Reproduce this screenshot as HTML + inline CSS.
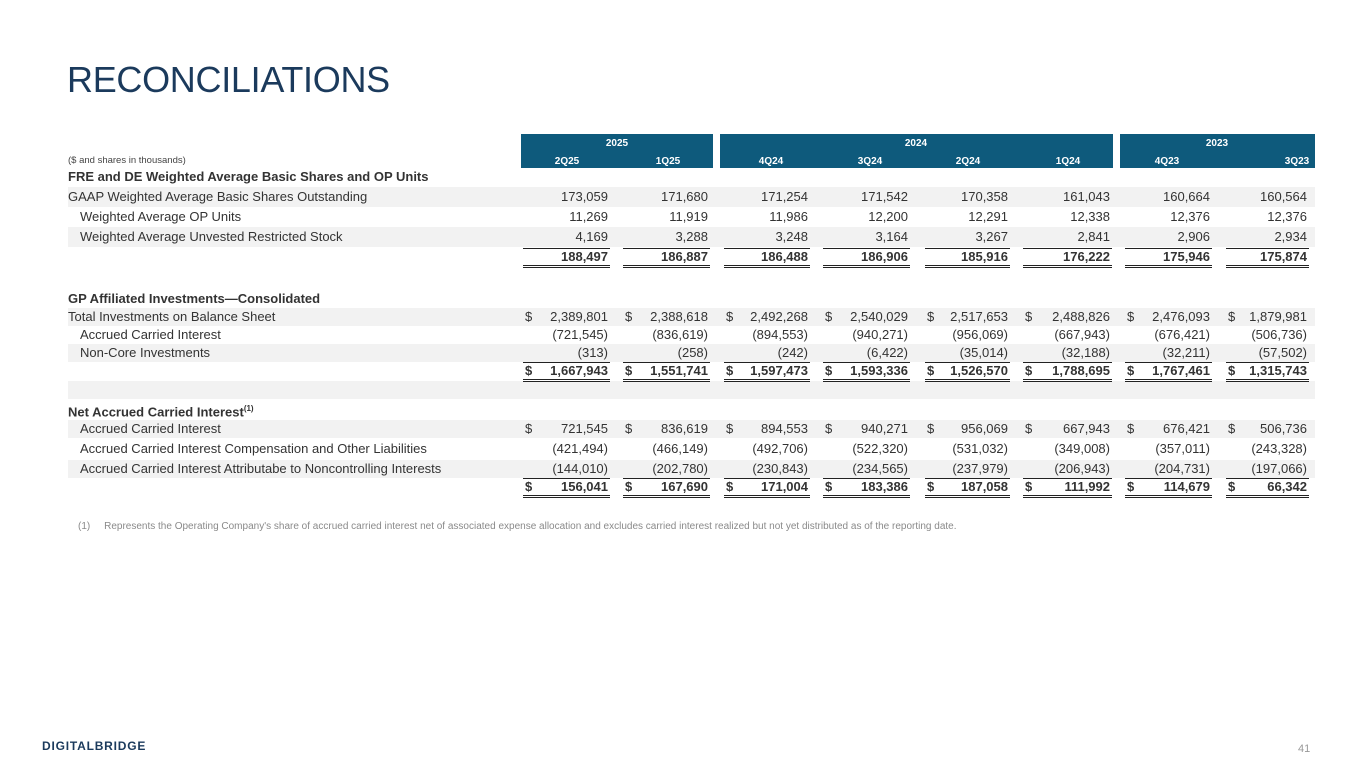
<!DOCTYPE html>
<html><head><meta charset="utf-8"><style>
body{margin:0;width:1365px;height:768px;background:#fff;position:relative;overflow:hidden;font-family:"Liberation Sans",Arial,sans-serif;color:#333}
div,span{position:absolute}
.t{left:67px;top:59px;font-size:36px;color:#1b3a5c;letter-spacing:-0.3px}
.bar{background:#0e5a7c;top:134px;height:34px}
.h{color:#fff;font-size:10px;font-weight:bold;width:100px;text-align:center;margin-left:-50px}
.r{left:0;width:1365px;height:18px;font-size:13px;line-height:18px}
.g{background:#f2f2f2;left:68px;width:1247px;height:18px}
.l{left:68px}.i{left:80px}
.b{font-weight:bold}
.c1{right:757px}.c2{right:657px}.c3{right:557px}.c4{right:457px}.c5{right:357px}.c6{right:255px}.c7{right:155px}.c8{right:58px}
.d1{left:525px}.d2{left:625px}.d3{left:726px}.d4{left:825px}.d5{left:927px}.d6{left:1025px}.d7{left:1127px}.d8{left:1228px}
.ln{height:1px;background:#222}
.dl{height:1px;border-top:1px solid #222;border-bottom:1px solid #222}
</style></head><body>
<div class="t">RECONCILIATIONS</div>
<div class="bar" style="left:521px;width:192px"></div>
<div class="bar" style="left:720px;width:393px"></div>
<div class="bar" style="left:1120px;width:195px"></div>
<div class="h" style="left:617px;top:138px">2025</div>
<div class="h" style="left:916px;top:138px">2024</div>
<div class="h" style="left:1217px;top:138px">2023</div>
<div class="h" style="left:567px;top:156px">2Q25</div>
<div class="h" style="left:668px;top:156px">1Q25</div>
<div class="h" style="left:771px;top:156px">4Q24</div>
<div class="h" style="left:870px;top:156px">3Q24</div>
<div class="h" style="left:968px;top:156px">2Q24</div>
<div class="h" style="left:1068px;top:156px">1Q24</div>
<div class="h" style="left:1167px;top:156px">4Q23</div>
<div class="h" style="left:1297px;top:156px">3Q23</div>
<div style="left:68px;top:155px;font-size:9.5px;color:#444">($ and shares in thousands)</div>

<div class="r b" style="top:168px"><span class="l">FRE and DE Weighted Average Basic Shares and OP Units</span></div>
<div class="g" style="top:187px;height:20px"></div>
<div class="r" style="top:188px"><span class="l">GAAP Weighted Average Basic Shares Outstanding</span><span class="c1">173,059</span><span class="c2">171,680</span><span class="c3">171,254</span><span class="c4">171,542</span><span class="c5">170,358</span><span class="c6">161,043</span><span class="c7">160,664</span><span class="c8">160,564</span></div>
<div class="r" style="top:208px"><span class="i">Weighted Average OP Units</span><span class="c1">11,269</span><span class="c2">11,919</span><span class="c3">11,986</span><span class="c4">12,200</span><span class="c5">12,291</span><span class="c6">12,338</span><span class="c7">12,376</span><span class="c8">12,376</span></div>
<div class="g" style="top:227px;height:20px"></div>
<div class="r" style="top:228px"><span class="i">Weighted Average Unvested Restricted Stock</span><span class="c1">4,169</span><span class="c2">3,288</span><span class="c3">3,248</span><span class="c4">3,164</span><span class="c5">3,267</span><span class="c6">2,841</span><span class="c7">2,906</span><span class="c8">2,934</span></div>
<div class="r b" style="top:248px"><span class="c1">188,497</span><span class="c2">186,887</span><span class="c3">186,488</span><span class="c4">186,906</span><span class="c5">185,916</span><span class="c6">176,222</span><span class="c7">175,946</span><span class="c8">175,874</span></div>

<div class="r b" style="top:290px"><span class="l">GP Affiliated Investments—Consolidated</span></div>
<div class="g" style="top:308px"></div>
<div class="r" style="top:308px"><span class="l">Total Investments on Balance Sheet</span><span class="d1">$</span><span class="d2">$</span><span class="d3">$</span><span class="d4">$</span><span class="d5">$</span><span class="d6">$</span><span class="d7">$</span><span class="d8">$</span><span class="c1">2,389,801</span><span class="c2">2,388,618</span><span class="c3">2,492,268</span><span class="c4">2,540,029</span><span class="c5">2,517,653</span><span class="c6">2,488,826</span><span class="c7">2,476,093</span><span class="c8">1,879,981</span></div>
<div class="r" style="top:326px"><span class="i">Accrued Carried Interest</span><span class="c1">(721,545)</span><span class="c2">(836,619)</span><span class="c3">(894,553)</span><span class="c4">(940,271)</span><span class="c5">(956,069)</span><span class="c6">(667,943)</span><span class="c7">(676,421)</span><span class="c8">(506,736)</span></div>
<div class="g" style="top:344px"></div>
<div class="r" style="top:344px"><span class="i">Non-Core Investments</span><span class="c1">(313)</span><span class="c2">(258)</span><span class="c3">(242)</span><span class="c4">(6,422)</span><span class="c5">(35,014)</span><span class="c6">(32,188)</span><span class="c7">(32,211)</span><span class="c8">(57,502)</span></div>
<div class="r b" style="top:362px"><span class="d1">$</span><span class="d2">$</span><span class="d3">$</span><span class="d4">$</span><span class="d5">$</span><span class="d6">$</span><span class="d7">$</span><span class="d8">$</span><span class="c1">1,667,943</span><span class="c2">1,551,741</span><span class="c3">1,597,473</span><span class="c4">1,593,336</span><span class="c5">1,526,570</span><span class="c6">1,788,695</span><span class="c7">1,767,461</span><span class="c8">1,315,743</span></div>
<div class="g" style="top:381px"></div>

<div class="r b" style="top:400px"><span class="l">Net Accrued Carried Interest<sup style="font-size:8px">(1)</sup></span></div>
<div class="g" style="top:420px"></div>
<div class="r" style="top:420px"><span class="i">Accrued Carried Interest</span><span class="d1">$</span><span class="d2">$</span><span class="d3">$</span><span class="d4">$</span><span class="d5">$</span><span class="d6">$</span><span class="d7">$</span><span class="d8">$</span><span class="c1">721,545</span><span class="c2">836,619</span><span class="c3">894,553</span><span class="c4">940,271</span><span class="c5">956,069</span><span class="c6">667,943</span><span class="c7">676,421</span><span class="c8">506,736</span></div>
<div class="r" style="top:440px"><span class="i">Accrued Carried Interest Compensation and Other Liabilities</span><span class="c1">(421,494)</span><span class="c2">(466,149)</span><span class="c3">(492,706)</span><span class="c4">(522,320)</span><span class="c5">(531,032)</span><span class="c6">(349,008)</span><span class="c7">(357,011)</span><span class="c8">(243,328)</span></div>
<div class="g" style="top:460px"></div>
<div class="r" style="top:460px"><span class="i">Accrued Carried Interest Attributabe to Noncontrolling Interests</span><span class="c1">(144,010)</span><span class="c2">(202,780)</span><span class="c3">(230,843)</span><span class="c4">(234,565)</span><span class="c5">(237,979)</span><span class="c6">(206,943)</span><span class="c7">(204,731)</span><span class="c8">(197,066)</span></div>
<div class="r b" style="top:478px"><span class="d1">$</span><span class="d2">$</span><span class="d3">$</span><span class="d4">$</span><span class="d5">$</span><span class="d6">$</span><span class="d7">$</span><span class="d8">$</span><span class="c1">156,041</span><span class="c2">167,690</span><span class="c3">171,004</span><span class="c4">183,386</span><span class="c5">187,058</span><span class="c6">111,992</span><span class="c7">114,679</span><span class="c8">66,342</span></div>

<!-- lines -->
<div class="ln" style="top:248px;left:523px;width:87px"></div><div class="ln" style="top:248px;left:623px;width:87px"></div><div class="ln" style="top:248px;left:724px;width:86px"></div><div class="ln" style="top:248px;left:823px;width:87px"></div><div class="ln" style="top:248px;left:925px;width:85px"></div><div class="ln" style="top:248px;left:1023px;width:89px"></div><div class="ln" style="top:248px;left:1125px;width:87px"></div><div class="ln" style="top:248px;left:1226px;width:83px"></div>
<div class="dl" style="top:265px;left:523px;width:87px"></div><div class="dl" style="top:265px;left:623px;width:87px"></div><div class="dl" style="top:265px;left:724px;width:86px"></div><div class="dl" style="top:265px;left:823px;width:87px"></div><div class="dl" style="top:265px;left:925px;width:85px"></div><div class="dl" style="top:265px;left:1023px;width:89px"></div><div class="dl" style="top:265px;left:1125px;width:87px"></div><div class="dl" style="top:265px;left:1226px;width:83px"></div>

<div class="ln" style="top:362px;left:523px;width:87px"></div><div class="ln" style="top:362px;left:623px;width:87px"></div><div class="ln" style="top:362px;left:724px;width:86px"></div><div class="ln" style="top:362px;left:823px;width:87px"></div><div class="ln" style="top:362px;left:925px;width:85px"></div><div class="ln" style="top:362px;left:1023px;width:89px"></div><div class="ln" style="top:362px;left:1125px;width:87px"></div><div class="ln" style="top:362px;left:1226px;width:83px"></div>
<div class="dl" style="top:379px;left:523px;width:87px"></div><div class="dl" style="top:379px;left:623px;width:87px"></div><div class="dl" style="top:379px;left:724px;width:86px"></div><div class="dl" style="top:379px;left:823px;width:87px"></div><div class="dl" style="top:379px;left:925px;width:85px"></div><div class="dl" style="top:379px;left:1023px;width:89px"></div><div class="dl" style="top:379px;left:1125px;width:87px"></div><div class="dl" style="top:379px;left:1226px;width:83px"></div>

<div class="ln" style="top:478px;left:523px;width:87px"></div><div class="ln" style="top:478px;left:623px;width:87px"></div><div class="ln" style="top:478px;left:724px;width:86px"></div><div class="ln" style="top:478px;left:823px;width:87px"></div><div class="ln" style="top:478px;left:925px;width:85px"></div><div class="ln" style="top:478px;left:1023px;width:89px"></div><div class="ln" style="top:478px;left:1125px;width:87px"></div><div class="ln" style="top:478px;left:1226px;width:83px"></div>
<div class="dl" style="top:495px;left:523px;width:87px"></div><div class="dl" style="top:495px;left:623px;width:87px"></div><div class="dl" style="top:495px;left:724px;width:86px"></div><div class="dl" style="top:495px;left:823px;width:87px"></div><div class="dl" style="top:495px;left:925px;width:85px"></div><div class="dl" style="top:495px;left:1023px;width:89px"></div><div class="dl" style="top:495px;left:1125px;width:87px"></div><div class="dl" style="top:495px;left:1226px;width:83px"></div>

<div style="left:78px;top:521px;font-size:10px;color:#8a8a8a">(1)&nbsp;&nbsp;&nbsp;&nbsp;&nbsp;Represents the Operating Company's share of accrued carried interest net of associated expense allocation and excludes carried interest realized but not yet distributed as of the reporting date.</div>
<div style="left:42px;top:739px;font-size:12px;font-weight:bold;color:#1b3a5c;letter-spacing:0.8px">DIGITALBRIDGE</div>
<div style="left:1298px;top:743px;font-size:11px;color:#999">41</div>
</body></html>
